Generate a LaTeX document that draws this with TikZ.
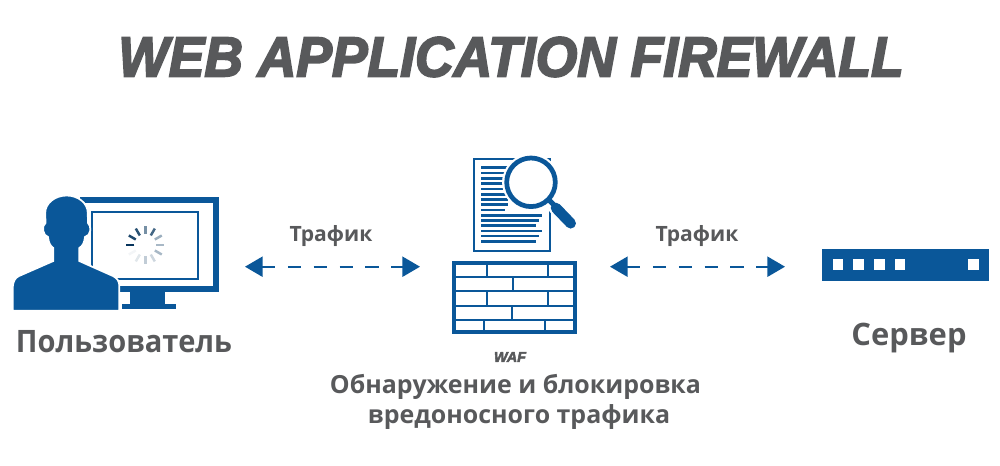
\documentclass[tikz,border=0pt]{standalone}
\usepackage{fontspec}
\setmainfont{Open Sans}
\newfontfamily\titlefont[BoldItalicFeatures={FakeBold=3.4}]{Liberation Sans}
\usepackage{tikz}
\usetikzlibrary{arrows.meta,positioning}
\definecolor{wafblue}{HTML}{0A5799}
\definecolor{wafgrey}{HTML}{58595B}
\tikzset{
  biglabel/.style={text=wafgrey,font=\bfseries\fontsize{17.6}{22}\selectfont,inner sep=0pt},
  midlabel/.style={text=wafgrey,font=\bfseries\fontsize{14.2}{18}\selectfont,inner sep=0pt},
  smalllabel/.style={text=wafgrey,font=\bfseries\fontsize{12}{15}\selectfont,inner sep=0pt},
  traffic/.style={{Triangle[length=10pt,width=11.4pt]}-{Triangle[length=10pt,width=11.4pt]},wafblue,line width=1.1pt,dash pattern=on 7.5pt off 7.2pt},
  brick/.style={wafblue,line width=1.2pt},
  docline/.style={wafblue,line width=1.45pt}
}
\begin{document}
\begin{tikzpicture}[x=0.02cm,y=-0.02cm]
\useasboundingbox (0,0) rectangle (1000,466);
% title
\node[text=wafgrey,font=\titlefont\bfseries\itshape\fontsize{32}{40}\selectfont,inner sep=0pt,xscale=0.95] (title) at (511,57) {WEB APPLICATION FIREWALL};
% monitor
\draw[wafblue,line width=3.4pt] (80,200.3) -- (216.2,200.3) -- (216.2,288.6) -- (120,288.6);
\draw[wafblue,line width=1.2pt] (92.3,211.7) rectangle (198.3,279);
\fill[wafblue] (130,291) rectangle (165,304);
\fill[wafblue] (121.7,304) rectangle (175.7,309.3);
% spinner
\foreach \i/\shade in {0/100,1/90,2/85,3/55,4/75,5/40,6/35,7/35,8/20,9/25,10/12,11/5}
  \draw[black!40!wafblue!\shade!white,line width=1.4pt] (145.3,245)++({180+30*\i}:11) -- ++({180+30*\i}:8);
% person
\draw[fill=wafblue,draw=white,line width=1pt]
  (12.7,310.7) -- (12.7,288.3) .. controls (13,281) and (15,278) .. (19,276)
  -- (53.3,261) -- (53.3,248) .. controls (50,246) and (48.5,242) .. (48,237)
  .. controls (43,236) and (41,226) .. (45.5,223) -- (45.2,213)
  .. controls (45.2,203) and (55,195.5) .. (66.7,195.5) .. controls (78,195.5) and (87.8,203) .. (87.8,213) -- (88,223)
  .. controls (92,226) and (91,236) .. (85,237) .. controls (84.5,242) and (83,246) .. (79.3,248)
  -- (79.3,261) -- (113,276) .. controls (117,278) and (119,281) .. (119.3,285) -- (119.3,310.7) -- cycle;
% document
\draw[wafblue,fill=white,line width=1.2pt] (474,159) rectangle (550,251);
\foreach \y in {167.7,173,178.3,183.7,189,194.3,199.3,204.7} \draw[docline] (481,\y) -- (508,\y);
\draw[docline] (481,210) -- (505,210);
\foreach \y/\e in {215.3/541.7,220.3/539.3,225.7/536,231/541.7,236/539.3,241.3/536} \draw[docline] (481,\y) -- (\e,\y);
% magnifier
\draw[white,fill=white] (531,182.3) circle (28.5);
\draw[white,line width=8pt,line cap=round] (553,205) -- (570.7,223.3);
\draw[wafblue,line width=2.7pt] (531,182.3) circle (24.3);
\draw[wafblue,line width=3pt] (549,200) -- (556,207);
\draw[wafblue,line width=6pt,line cap=round] (556,208) -- (570.7,223.3);
% wall
\draw[wafblue,line width=2pt] (454.2,263.2) rectangle (575.2,331.8);
\foreach \y in {277,291,305.7,319.7} \draw[brick] (454,\y) -- (575.3,\y);
\foreach \x/\a/\b in {486.7/263/277,548.3/263/277,513.3/277/291,486.7/291/305.7,548.3/291/305.7,512.3/305.7/319.7,483.7/319.7/332,545.3/319.7/332}
  \draw[brick] (\x,\a) -- (\x,\b);
% server
\fill[wafblue] (822.3,249) rectangle (989,280.7);
\foreach \x in {832.7,853.3,874.3,895,968.3} \fill[white] (\x,259.3) rectangle ++(10.3,10.3);
% connectors
\coordinate (userport) at (245,266.7);
\coordinate (wafwest) at (420,266.7);
\coordinate (wafeast) at (610,266.7);
\coordinate (serverport) at (785,266.7);
\draw[traffic] (userport) -- (wafwest);
\draw[traffic] (wafeast) -- (serverport);
% labels
\node[smalllabel] (trafficleft) at (331,236) {Трафик};
\node[smalllabel] (trafficright) at (697,236) {Трафик};
\node[biglabel,xscale=0.94] (user) at (124,342) {Пользователь};
\node[biglabel] (server) at (909,338) {Сервер};
\node[text=wafgrey,font=\titlefont\bfseries\itshape\fontsize{8.2}{10}\selectfont,inner sep=0pt] (waf) at (510,357) {WAF};
\node[midlabel] (wafdesc) at (515.5,387) {Обнаружение и блокировка};
\node[midlabel] (wafdesc2) at (519,417) {вредоносного трафика};
\end{tikzpicture}
\end{document}
